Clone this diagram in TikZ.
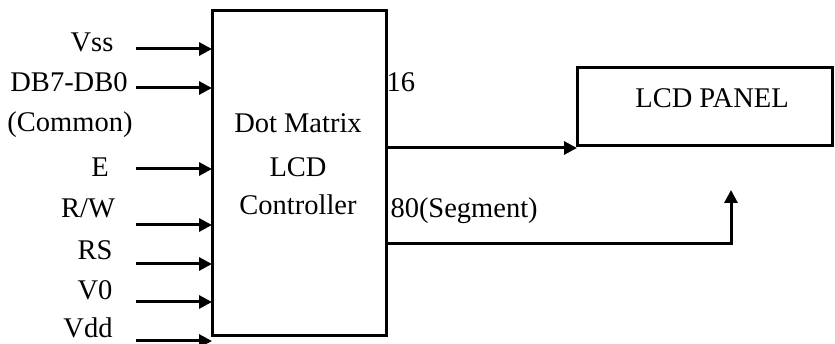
\documentclass[tikz,border=0pt]{standalone}
\usepackage{fontspec}
\setmainfont{Liberation Serif}
\usetikzlibrary{arrows.meta}
\begin{document}
\begin{tikzpicture}[x=1pt,y=-1pt,
  line width=3pt,
  lbl/.style={anchor=base,inner sep=0pt,font=\fontsize{28.5}{32}\selectfont},
  blk/.style={draw,line width=3pt,inner sep=0pt},
  arr/.style={-{Triangle[length=13pt,width=13pt]},line width=3pt}]
\useasboundingbox (0,0) rectangle (835,344);
% controller box
\draw[blk] (212,11) rectangle (386,336);
\node[lbl] (t1) at (298,133) {Dot Matrix};
\node[lbl] (t2) at (298,177) {LCD};
\node[lbl] (t3) at (298,215) {Controller};
% panel
\draw[blk] (577,68) rectangle (832,146);
\node[lbl] (p) at (712,108) {LCD PANEL};
% inputs
\foreach \n/\y in {vss/49,db/88,e/169,rw/225,rs/264,vz/302,vdd/341}{
  \coordinate (s\n) at (136,\y);
  \coordinate (e\n) at (212,\y);
  \draw[arr] (s\n) -- (e\n);
}
\node[lbl] (lvss) at (92,52) {Vss};
\node[lbl] (ldb) at (69,92) {DB7-DB0};
\node[lbl] (lcom) at (70,132) {(Common)};
\node[lbl] (le) at (100,177) {E};
\node[lbl] (lrw) at (88,218) {R/W};
\node[lbl] (lrs) at (95,260) {RS};
\node[lbl] (lv0) at (95,300) {V0};
\node[lbl,text depth=0pt] (lvdd) at (88,338) {Vdd};
% outputs
\coordinate (o1) at (386,148);
\coordinate (o1e) at (577,148);
\draw[arr] (o1) -- (o1e);
\coordinate (o2) at (386,244);
\coordinate (o2c) at (731,244);
\coordinate (o2e) at (731,190);
\draw[arr] (o2) -- (o2c) -- (o2e);
\node[lbl,anchor=base west] (l16) at (385,92) {16};
\node[lbl,anchor=base west] (l80) at (389,218) {80(Segment)};
\end{tikzpicture}
\end{document}
